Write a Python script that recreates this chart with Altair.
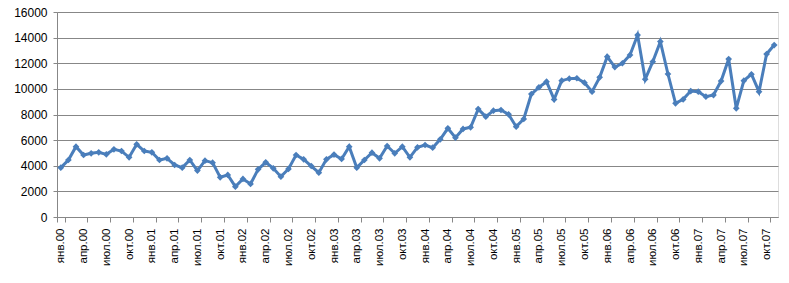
import altair as alt
import pandas as pd

month_names = ["янв", "фев", "мар", "апр", "май", "июн",
               "июл", "авг", "сен", "окт", "ноя", "дек"]
years = ["00", "01", "02", "03", "04", "05", "06", "07"]

values = [
    3850, 4450, 5490, 4840, 4970, 5050, 4890, 5280, 5150, 4660, 5670, 5150,   # 2000
    5050, 4450, 4580, 4060, 3850, 4450, 3620, 4400, 4240, 3100, 3280, 2370,   # 2001
    2970, 2580, 3720, 4270, 3800, 3150, 3750, 4840, 4500, 3980, 3460, 4500,   # 2002
    4870, 4530, 5490, 3850, 4450, 5020, 4580, 5540, 4970, 5490, 4660, 5440,   # 2003
    5620, 5410, 6060, 6920, 6190, 6870, 7000, 8420, 7830, 8300, 8350, 8010,   # 2004
    7050, 7650, 9600, 10120, 10560, 9180, 10640, 10800, 10830, 10480, 9780, 10900,  # 2005
    12510, 11700, 12000, 12640, 14200, 10750, 12120, 13690, 11160, 8870, 9180, 9830,  # 2006
    9780, 9390, 9520, 10610, 12330, 8480, 10640, 11140, 9780, 12720, 13420,  # 2007
]

labels = [f"{m}.{y}" for y in years for m in month_names][: len(values)]
df = pd.DataFrame({"month": labels, "value": values})
shown = labels[::3]

FONT = "Liberation Sans"
GRID = "#878787"
BLUE = "#4a7ebb"

chart = (
    alt.Chart(df)
    .mark_line(
        color=BLUE,
        strokeWidth=3,
        point=alt.OverlayMarkDef(shape="diamond", size=45, filled=True, color=BLUE),
    )
    .encode(
        x=alt.X(
            "month:O",
            sort=labels,
            bandPosition=0.5,
            scale=alt.Scale(type="band", domain=labels, paddingInner=0, paddingOuter=0),
            axis=alt.Axis(
                title=None,
                values=shown,
                labelAngle=-90,
                labelFont=FONT,
                labelFontSize=11.5,
                labelColor="#000000",
                labelPadding=6,
                tickBand="extent",
                tickSize=5,
                tickColor=GRID,
                domainColor=GRID,
                grid=False,
                labelOverlap=False,
            ),
        ),
        y=alt.Y(
            "value:Q",
            scale=alt.Scale(domain=[0, 16000], nice=False),
            axis=alt.Axis(
                title=None,
                values=list(range(0, 16001, 2000)),
                format="d",
                labelFont=FONT,
                labelFontSize=12,
                labelColor="#000000",
                labelPadding=6,
                tickSize=4,
                tickColor=GRID,
                domainColor=GRID,
                gridColor=GRID,
                gridWidth=1,
                gridOpacity=1,
            ),
        ),
    )
    .properties(
        width=721,
        height=205,
        autosize=alt.AutoSizeParams(type="none"),
        padding={"left": 57, "top": 12, "right": 11, "bottom": 66},
    )
    .configure_view(stroke=None)
    .configure(background="white")
)

chart.save("out.html", embed_options={"renderer": "svg", "actions": False})
